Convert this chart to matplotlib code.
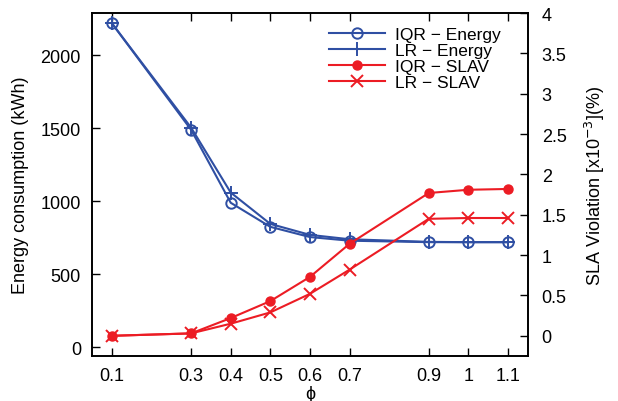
import matplotlib
matplotlib.use("Agg")
import matplotlib.pyplot as plt

plt.rcParams['font.family'] = ['Liberation Sans', 'DejaVu Sans']

phi = [0.1, 0.3, 0.4, 0.5, 0.6, 0.7, 0.9, 1.0, 1.1]
phi_labels = ['0.1', '0.3', '0.4', '0.5', '0.6', '0.7', '0.9', '1', '1.1']
iqr_energy = [2220, 1490, 990, 825, 755, 730, 720, 720, 720]
lr_energy = [2220, 1505, 1060, 845, 770, 740, 722, 720, 720]
iqr_slav = [0.0, 0.03, 0.22, 0.43, 0.73, 1.14, 1.77, 1.81, 1.82]
lr_slav = [0.0, 0.03, 0.15, 0.29, 0.52, 0.82, 1.45, 1.46, 1.46]

blue = '#2f4fa3'
red = '#ec1c24'
fs = 13

fig = plt.figure(figsize=(6.18, 4.02), dpi=100)
ax = fig.add_axes([0.149, 0.112, 0.705, 0.853])
ax2 = ax.twinx()

l1, = ax.plot(phi, iqr_energy, color=blue, lw=1.5, marker='o', mfc='none', mec=blue, ms=7.5, mew=1.4, label='IQR \u2212 Energy')
l2, = ax.plot(phi, lr_energy, color=blue, lw=1.5, marker='+', ms=10, mew=1.4, label='LR \u2212 Energy')
l3, = ax2.plot(phi, iqr_slav, color=red, lw=1.5, marker='o', ms=6.5, label='IQR \u2212 SLAV')
l4, = ax2.plot(phi, lr_slav, color=red, lw=1.5, marker='x', ms=8, mew=1.4, label='LR \u2212 SLAV')

ax.set_xlim(0.05, 1.15)
ax.set_ylim(-60, 2290)
ax2.set_ylim(-0.25, 4.0)
ax.set_xticks(phi)
ax.set_xticklabels(phi_labels)
ax.set_yticks([0, 500, 1000, 1500, 2000])
ax2.set_yticks([0, 0.5, 1, 1.5, 2, 2.5, 3, 3.5, 4])
ax2.set_yticklabels(['0', '0.5', '1', '1.5', '2', '2.5', '3', '3.5', '4'])

ax.tick_params(axis='x', direction='in', top=True, length=6, width=1, labelsize=fs, pad=8)
ax.tick_params(axis='y', direction='in', right=False, length=6, width=1, labelsize=fs, pad=8)
ax2.tick_params(axis='y', direction='in', length=6, width=1, labelsize=fs, pad=10)
for a in (ax, ax2):
    for s in a.spines.values():
        s.set_linewidth(1.2)

ax.set_xlabel('\u03d5', fontsize=fs, labelpad=1)
ax.set_ylabel('Energy consumption (kWh)', fontsize=fs, labelpad=8)
ax2.set_ylabel('SLA Violation [x10$^{-3}$](%)', fontsize=fs, labelpad=12)

leg = ax.legend(handles=[l1, l2, l3, l4], loc='upper right', bbox_to_anchor=(0.955, 0.98),
                frameon=False, fontsize=12.5,
                handlelength=3.2, handletextpad=0.6, labelspacing=0.05, borderaxespad=0.0)

fig.savefig('out.png', dpi=100)
